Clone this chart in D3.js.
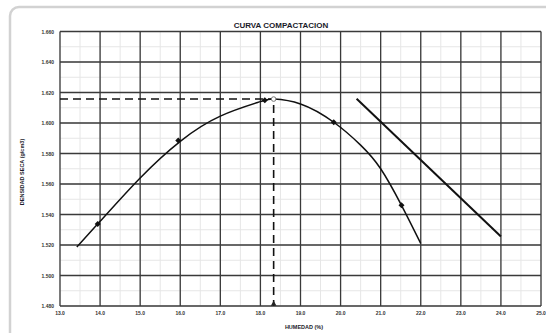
<!DOCTYPE html>
<html><head><meta charset="utf-8">
<script src="https://cdn.jsdelivr.net/npm/d3@7"></script>
<style>html,body{margin:0;padding:0;background:#fff;}svg{display:block;}</style>
</head><body>
<svg id="c" width="546" height="333"></svg>
<script>
const xTicks = [13,14,15,16,17,18,19,20,21,22,23,24,25];
const yTicks = [1.48,1.50,1.52,1.54,1.56,1.58,1.60,1.62,1.64,1.66];
const pointsX = [13.94, 15.95, 18.11, 19.83, 21.52];
const pointsY = [1.5337, 1.5885, 1.6150, 1.6005, 1.5460];
const curveX = [13.42,14.0,15.0,16.0,17.0,18.0,18.33,19.0,19.83,20.5,21.0,21.52,22.0];
const curveY = [1.5187,1.5355,1.5640,1.5880,1.6045,1.6140,1.6157,1.6125,1.6005,1.5855,1.5700,1.5460,1.5210];
const zavX = [20.4, 24.0];
const zavY = [1.6159, 1.5256];
const optimum = {x: 18.33, y: 1.6157};

const svg = d3.select('#c');
const x = d3.scaleLinear().domain([13,25]).range([60,541]);
const y = d3.scaleLinear().domain([1.48,1.66]).range([306,31.5]);

// frame
svg.append('rect').attr('x',10).attr('y',7).attr('width',560).attr('height',340)
  .attr('rx',9).attr('fill','none').attr('stroke','#d2d2d2').attr('stroke-width',2.5);

// minor grid
const minorX = d3.range(13,25.001,0.5);
const minorY = d3.range(1.48,1.6601,0.01);
svg.append('g').selectAll('line').data(minorX).join('line')
  .attr('x1',d=>x(d)).attr('x2',d=>x(d)).attr('y1',y(1.48)).attr('y2',y(1.66))
  .attr('stroke','#e6e6e6').attr('stroke-width',1);
svg.append('g').selectAll('line').data(minorY).join('line')
  .attr('y1',d=>y(d)).attr('y2',d=>y(d)).attr('x1',x(13)).attr('x2',x(25))
  .attr('stroke','#e6e6e6').attr('stroke-width',1);

// major grid
svg.append('g').selectAll('line').data(xTicks).join('line')
  .attr('x1',d=>x(d)).attr('x2',d=>x(d)).attr('y1',y(1.48)).attr('y2',y(1.66))
  .attr('stroke','#3a3a3a').attr('stroke-width',1.3);
svg.append('g').selectAll('line').data(yTicks).join('line')
  .attr('y1',d=>y(d)).attr('y2',d=>y(d)).attr('x1',x(13)).attr('x2',x(25))
  .attr('stroke','#3a3a3a').attr('stroke-width',1.3);

// axis labels
svg.append('g').selectAll('text').data(yTicks).join('text')
  .attr('x',54).attr('y',d=>y(d)+2).attr('text-anchor','end')
  .attr('font-family','Liberation Sans, Arial, sans-serif').attr('font-size',5).attr('font-weight','bold')
  .attr('fill','#333').text(d=>d3.format('.3f')(d));
svg.append('g').selectAll('text').data(xTicks).join('text')
  .attr('x',d=>x(d)).attr('y',315).attr('text-anchor','middle')
  .attr('font-family','Liberation Sans, Arial, sans-serif').attr('font-size',5).attr('font-weight','bold')
  .attr('fill','#333').text(d=>d3.format('.1f')(d));

svg.append('text').attr('x',281).attr('y',28).attr('text-anchor','middle')
  .attr('font-family','Liberation Sans, Arial, sans-serif').attr('font-size',8).attr('font-weight','bold')
  .attr('fill','#1a1a2a').text('CURVA COMPACTACION');
svg.append('text').attr('x',304).attr('y',329).attr('text-anchor','middle')
  .attr('font-family','Liberation Sans, Arial, sans-serif').attr('font-size',5.5).attr('font-weight','bold')
  .attr('fill','#1a1a2a').text('HUMEDAD (%)');
svg.append('text').attr('transform','translate(24,172) rotate(-90)').attr('text-anchor','middle')
  .attr('font-family','Liberation Sans, Arial, sans-serif').attr('font-size',5.5).attr('font-weight','bold')
  .attr('fill','#1a1a2a').text('DENSIDAD SECA (g/cm3)');

// dashed optimum lines
svg.append('line').attr('x1',x(13)).attr('x2',x(optimum.x)).attr('y1',y(optimum.y)).attr('y2',y(optimum.y))
  .attr('stroke','#111').attr('stroke-width',1.6).attr('stroke-dasharray','8,5');
svg.append('line').attr('x1',x(optimum.x)).attr('x2',x(optimum.x)).attr('y1',y(optimum.y)+6).attr('y2',y(1.48))
  .attr('stroke','#111').attr('stroke-width',1.6).attr('stroke-dasharray','8,5');
svg.append('path').attr('d',d3.symbol(d3.symbolTriangle,14)())
  .attr('transform',`translate(${x(optimum.x)},${y(1.48)-2})`).attr('fill','#222');

// compaction curve
const curveData = curveX.map((d,i)=>[d,curveY[i]]);
svg.append('path').datum(curveData)
  .attr('d',d3.line().x(d=>x(d[0])).y(d=>y(d[1])).curve(d3.curveNatural))
  .attr('fill','none').attr('stroke','#111').attr('stroke-width',1.5);

// zero air voids line
const zavData = zavX.map((d,i)=>[d,zavY[i]]);
svg.append('path').datum(zavData)
  .attr('d',d3.line().x(d=>x(d[0])).y(d=>y(d[1])))
  .attr('fill','none').attr('stroke','#111').attr('stroke-width',2);

// points
const pts = pointsX.map((d,i)=>[d,pointsY[i]]);
svg.append('g').selectAll('path').data(pts).join('path')
  .attr('d',d3.symbol(d3.symbolSquare,18)())
  .attr('transform',d=>`translate(${x(d[0])},${y(d[1])}) rotate(45)`)
  .attr('fill','#111');

// optimum open circle
svg.append('circle').attr('cx',x(optimum.x)).attr('cy',y(optimum.y)).attr('r',2.3)
  .attr('fill','#fff').attr('stroke','#777').attr('stroke-width',1);
</script>
</body></html>
